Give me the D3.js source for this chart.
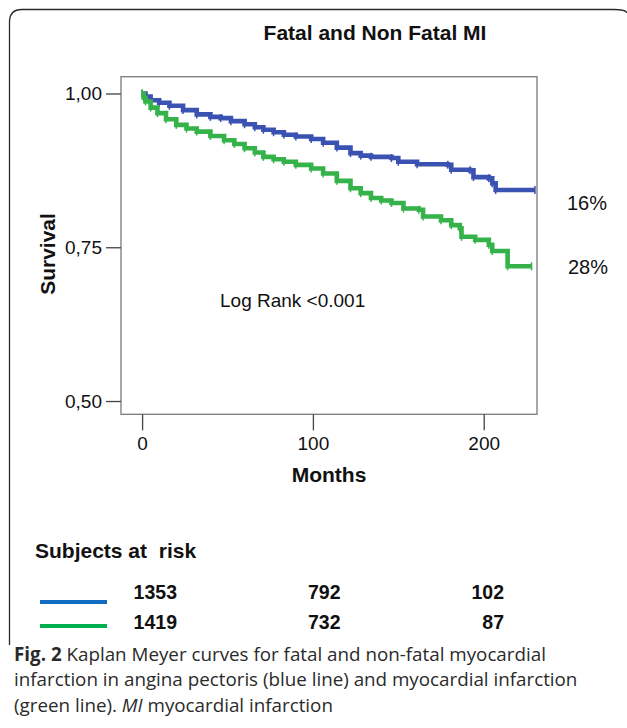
<!DOCTYPE html>
<html><head><meta charset="utf-8">
<script src="https://cdn.jsdelivr.net/npm/d3@7"></script>
<style>
html,body{margin:0;padding:0;background:#fff;}
svg{display:block;}
</style></head>
<body>
<script>
// ---- data ----
const blueMonths = [0,2,5,10,16,24,32,40,46,52,60,66,71,77,83,90,99,106,114,122,128,134,146,150,161,179,181,192,194,203,205,207,230];
const blueSurv   = [1.000,0.995,0.989,0.985,0.980,0.973,0.966,0.962,0.960,0.955,0.950,0.945,0.941,0.937,0.933,0.930,0.926,0.920,0.912,0.903,0.899,0.897,0.895,0.889,0.885,0.884,0.876,0.875,0.864,0.862,0.854,0.843,0.843];
const greenMonths = [0,1,2,5,9,14,20,26,32,40,48,54,60,66,71,77,83,90,99,106,114,122,128,134,140,146,153,162,164.5,175,181,186,187,195,203,205,214,228];
const greenSurv   = [1.000,0.993,0.987,0.977,0.968,0.958,0.949,0.943,0.938,0.931,0.924,0.918,0.911,0.904,0.897,0.893,0.889,0.884,0.878,0.870,0.858,0.846,0.838,0.830,0.826,0.822,0.813,0.811,0.800,0.794,0.786,0.781,0.767,0.762,0.754,0.744,0.719,0.719];
const xTicks = [0,100,200];
const yTicks = [1.00,0.75,0.50];
const yTickLabels = ["1,00","0,75","0,50"];
const endLabels = ["16%","28%"];
const riskTimes = [0,100,200];
const riskBlue = [1353,792,102];
const riskGreen = [1419,732,87];

const W = 627, H = 728;
const svg = d3.select("body").append("svg").attr("width",W).attr("height",H);

// outer frame
svg.append("path")
  .attr("d","M9.5,645 V22 Q9.5,9.5 22,9.5 H614 Q626,9.5 627,13")
  .attr("fill","none").attr("stroke","#2b2b2b").attr("stroke-width",1.3);

const x = d3.scaleLinear().domain([-12.35,231.2]).range([121,537]);
const y = d3.scaleLinear().domain([0.4784,1.0273]).range([414.3,76.7]);

const FONT = "Liberation Sans, Arial, Helvetica, sans-serif";

// title
svg.append("text").attr("x",375).attr("y",40).attr("text-anchor","middle")
  .attr("font-family",FONT).attr("font-weight","bold").attr("font-size",21)
  .attr("fill","#111").text("Fatal and Non Fatal MI");

// plot frame
svg.append("rect").attr("x",x.range()[0]).attr("y",y.range()[1])
  .attr("width",x.range()[1]-x.range()[0]).attr("height",y.range()[0]-y.range()[1])
  .attr("fill","none").attr("stroke","#7a7a7a").attr("stroke-width",1.3);

// y axis
const yAxis = d3.axisLeft(y).tickValues(yTicks).tickSize(15).tickPadding(4)
  .tickFormat((d,i)=>yTickLabels[i]);
const gy = svg.append("g").attr("transform",`translate(${x.range()[0]},0)`).call(yAxis);
gy.select(".domain").remove();
gy.selectAll(".tick line").attr("stroke","#444").attr("stroke-width",1.3);
gy.selectAll(".tick text").attr("font-family",FONT).attr("font-size",19).attr("fill","#111");

// x axis
const xAxis = d3.axisBottom(x).tickValues(xTicks).tickSize(16).tickPadding(6).tickFormat(d3.format("d"));
const gx = svg.append("g").attr("transform",`translate(0,${y.range()[0]})`).call(xAxis);
gx.select(".domain").remove();
gx.selectAll(".tick line").attr("stroke","#444").attr("stroke-width",1.3);
gx.selectAll(".tick text").attr("font-family",FONT).attr("font-size",19).attr("fill","#111");

// axis titles
svg.append("text").attr("x",329).attr("y",482).attr("text-anchor","middle")
  .attr("font-family",FONT).attr("font-weight","bold").attr("font-size",21)
  .attr("fill","#111").text("Months");
svg.append("text").attr("transform","translate(55,254) rotate(-90)").attr("text-anchor","middle")
  .attr("font-family",FONT).attr("font-weight","bold").attr("font-size",21)
  .attr("fill","#111").text("Survival");

// curves
const series = [
  {t: blueMonths, s: blueSurv, color: "#3a52b2"},
  {t: greenMonths, s: greenSurv, color: "#35b34a"}
];
const line = d3.line().x(d=>x(d[0])).y(d=>y(d[1])).curve(d3.curveStepAfter);
series.forEach(se=>{
  const pts = se.t.map((t,i)=>[t,se.s[i]]);
  svg.append("path").datum(pts).attr("d",line)
    .attr("fill","none").attr("stroke",se.color).attr("stroke-width",4.6);
  svg.append("g").selectAll("line").data(pts).join("line")
    .attr("x1",d=>x(d[0])).attr("x2",d=>x(d[0]))
    .attr("y1",d=>y(d[1])-4).attr("y2",d=>y(d[1])+4)
    .attr("stroke",se.color).attr("stroke-width",1.5);
});

// end labels
svg.append("text").attr("x",567).attr("y",210).attr("font-family",FONT).attr("font-size",20)
  .attr("fill","#111").text(endLabels[0]);
svg.append("text").attr("x",568).attr("y",274).attr("font-family",FONT).attr("font-size",20)
  .attr("fill","#111").text(endLabels[1]);

// log rank
svg.append("text").attr("x",220).attr("y",307).attr("font-family",FONT).attr("font-size",19)
  .attr("fill","#111").text("Log Rank <0.001");

// subjects at risk
svg.append("text").attr("x",35).attr("y",558).attr("font-family",FONT).attr("font-weight","bold")
  .attr("font-size",21).attr("fill","#111").text("Subjects at\u00a0 risk");
svg.append("line").attr("x1",40).attr("x2",107).attr("y1",602).attr("y2",602)
  .attr("stroke","#0f6cc0").attr("stroke-width",4);
svg.append("line").attr("x1",40).attr("x2",107).attr("y1",626).attr("y2",626)
  .attr("stroke","#00b050").attr("stroke-width",4);
const riskX = d3.scaleLinear().domain([0,200]).range([177,504]);
[[riskBlue,599],[riskGreen,629]].forEach(([vals,yy])=>{
  svg.append("g").selectAll("text").data(vals).join("text")
    .attr("x",(d,i)=>riskX(riskTimes[i])).attr("y",yy).attr("text-anchor","end")
    .attr("font-family",FONT).attr("font-weight","bold").attr("font-size",19.5)
    .attr("fill","#111").text(d=>d);
});

// caption
const CAP = "'Open Sans', 'Noto Sans', sans-serif";
const cap = svg.append("g").attr("font-family",CAP).attr("font-size",18.8).attr("fill","#2a2a2a");
const l1 = cap.append("text").attr("x",14).attr("y",661);
l1.append("tspan").attr("font-weight","bold").text("Fig. 2");
l1.append("tspan").text(" Kaplan Meyer curves for fatal and non-fatal myocardial");
cap.append("text").attr("x",14).attr("y",686).text("infarction in angina pectoris (blue line) and myocardial infarction");
const l3 = cap.append("text").attr("x",14).attr("y",712);
l3.append("tspan").text("(green line). ");
l3.append("tspan").attr("font-style","italic").text("MI");
l3.append("tspan").text(" myocardial infarction");
</script>
</body></html>
